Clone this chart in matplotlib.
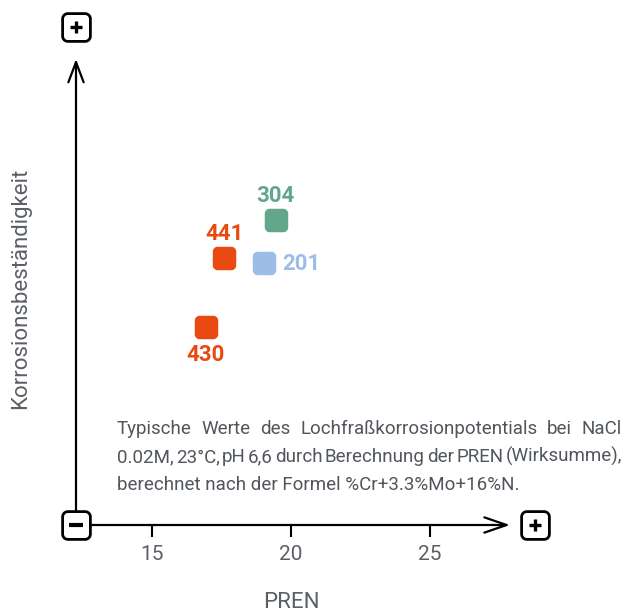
import numpy as np
import matplotlib
matplotlib.use("Agg")
import matplotlib.pyplot as plt
from matplotlib.path import Path
from matplotlib.transforms import IdentityTransform

plt.rcParams['font.family'] = ['Roboto', 'DejaVu Sans']

# ---- data ----
grades = ['304', '441', '201', '430']
pren = [19.45, 17.6, 19.02, 16.94]
resistance = [65.9, 57.7, 56.6, 42.8]
colors = ['#62a78b', '#e84a12', '#9bbde6', '#e84a12']
xticks = [15, 20, 25]
xtick_labels = ['15', '20', '25']
xlabel = 'PREN'
ylabel = 'Korrosionsbeständigkeit'
note_lines = ["Typische Werte des Lochfraßkorrosionpotentials bei NaCl",
              "0.02M, 23°C, pH 6,6 durch Berechnung der PREN (Wirksumme),",
              "berechnet nach der Formel %Cr+3.3%Mo+16%N."]

# label placement (offset in points, alignment)
label_pos = {'304': ((0, 17), 'center'), '441': ((0, 17), 'center'),
             '201': ((13.5, -0.5), 'left'), '430': ((0, -20), 'center')}

W, H = 626, 614
fig = plt.figure(figsize=(W / 100, H / 100), dpi=100)
ax = fig.add_axes([0, 0, 1, 1])

# pixel mapping
PX_PER_X = 27.8
PX_PER_Y = 463 / 100.0
def px2x(p):
    return 15 + (p - 152) / PX_PER_X
def py2y(p):
    return (525 - p) / PX_PER_Y

ax.set_xlim(px2x(0), px2x(W))
ax.set_ylim(py2y(H), py2y(0))
for s in ['top', 'right', 'left']:
    ax.spines[s].set_visible(False)
ax.spines['bottom'].set_position(('data', 0))
ax.spines['bottom'].set_visible(False)
ax.set_yticks([])
ax.set_xticks(xticks)
ax.set_xticklabels(xtick_labels)
ax.tick_params(axis='x', direction='out', length=8.6, width=1.5, color='black',
               labelsize=15, labelcolor='#5b6066', pad=6)


def rounded_square(r=0.32, n=12):
    verts = []
    centers = [(1 - r, 1 - r, 0), (-1 + r, 1 - r, 90), (-1 + r, -1 + r, 180), (1 - r, -1 + r, 270)]
    for cx, cy, a0 in centers:
        for t in np.linspace(np.radians(a0), np.radians(a0 + 90), n):
            verts.append((cx + r * np.cos(t), cy + r * np.sin(t)))
    verts.append(verts[0])
    codes = [Path.MOVETO] + [Path.LINETO] * (len(verts) - 2) + [Path.CLOSEPOLY]
    return Path(verts, codes)

rsq = rounded_square(0.42)
rsq_box = rounded_square(0.38)

x0 = px2x(76)
x_tip = px2x(510)
y_tip = py2y(59)

# axes arrows
ax.annotate('', xy=(x_tip, 0), xytext=(x0, 0),
            arrowprops=dict(arrowstyle='->,head_length=1.6,head_width=0.55', lw=1.6,
                            color='black', shrinkA=0, shrinkB=0, mutation_scale=10))
ax.annotate('', xy=(x0, y_tip), xytext=(x0, 0),
            arrowprops=dict(arrowstyle='->,head_length=1.45,head_width=0.55', lw=1.6,
                            color='black', shrinkA=0, shrinkB=0, mutation_scale=10))

# +/- boxes
box_ms = 20.0
for bx, by, sym in [(x0, 0, '-'), (x0, py2y(27), '+'), (px2x(535), 0, '+')]:
    ax.plot([bx], [by], marker=rsq_box, ms=box_ms, mfc='white', mec='black', mew=2.0,
            zorder=5, clip_on=False)
    if sym == '+':
        ax.plot([bx], [by], marker='+', ms=8.5, mew=2.4, color='black', zorder=6)
    else:
        ax.plot([bx], [by], marker='_', ms=9.5, mew=3.0, color='black', zorder=6)

# data points
for g, xv, yv, c in zip(grades, pren, resistance, colors):
    ax.plot([xv], [yv], marker=rsq, ms=16.9, mfc=c, mec='none', zorder=4, ls='none')
    off, ha = label_pos[g]
    ax.annotate(g, (xv, yv), xytext=off, textcoords='offset points', ha=ha, va='center',
                fontsize=16, fontweight='bold', color=c)

# axis labels
fig.text(291 / W, 1 - 603 / H, xlabel, ha='center', va='center', fontsize=16, color='#5b6066')
fig.text(21 / W, 1 - 288 / H, ylabel, ha='center', va='center', rotation=90,
         fontsize=16, color='#5b6066')

# note text, justified
fig.canvas.draw()
renderer = fig.canvas.get_renderer()
tr = IdentityTransform()
left, right = 117, 622
baselines = [434.5, 462, 489.5]
justify = [True, True, False]
note_fs = 13.5
for line, base, jus in zip(note_lines, baselines, justify):
    words = line.split(' ')
    yb = H - base
    if not jus:
        fig.text(left, yb, line, transform=tr, ha='left', va='baseline',
                 fontsize=note_fs, color='#50565c')
        continue
    ts = [fig.text(left, yb, w, transform=tr, ha='left', va='baseline',
                   fontsize=note_fs, color='#50565c') for w in words]
    widths = [t.get_window_extent(renderer).width for t in ts]
    gap = (right - left - sum(widths)) / (len(words) - 1)
    xcur = left
    for t, wdt in zip(ts, widths):
        t.set_x(xcur)
        xcur += wdt + gap

fig.savefig('out.png', dpi=100)
